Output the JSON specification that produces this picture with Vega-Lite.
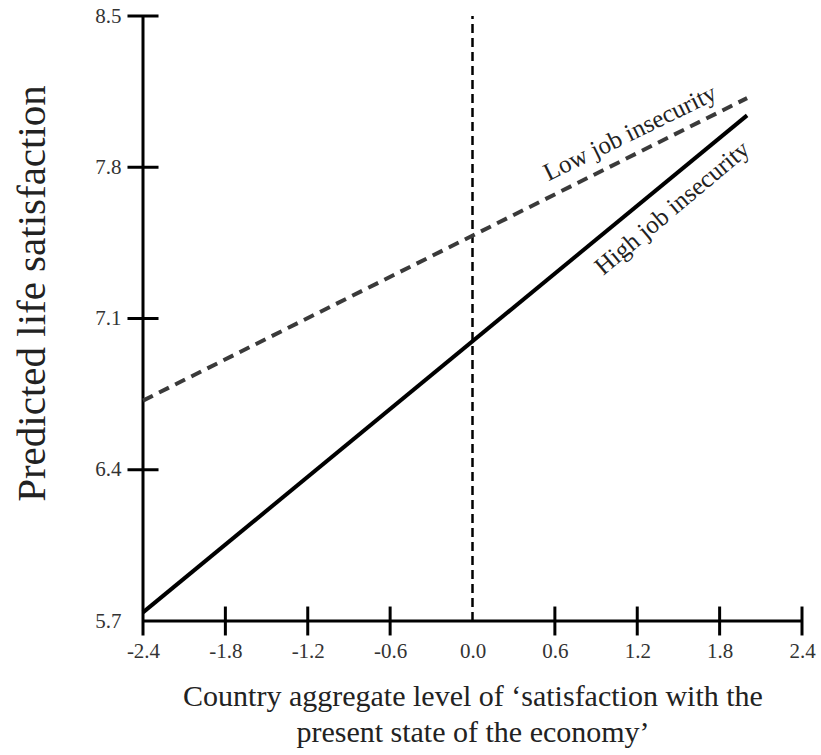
{
  "$schema": "https://vega.github.io/schema/vega-lite/v6.json",
  "width": 659,
  "height": 605,
  "autosize": {"type": "none"},
  "padding": {"left": 143, "top": 16, "right": 19, "bottom": 134},
  "background": "white",
  "config": {"view": {"stroke": null}},
  "datasets": {
    "lines": [
      {"x": -2.4, "y": 5.74, "series": "High job insecurity"},
      {"x": 2.0, "y": 8.04, "series": "High job insecurity"},
      {"x": -2.4, "y": 6.72, "series": "Low job insecurity"},
      {"x": 2.0, "y": 8.12, "series": "Low job insecurity"}
    ],
    "xticks": [
      {"x": -1.8, "y": 5.633, "y2": 5.767},
      {"x": -1.2, "y": 5.633, "y2": 5.767},
      {"x": -0.6, "y": 5.633, "y2": 5.767},
      {"x": 0.6, "y": 5.633, "y2": 5.767},
      {"x": 1.2, "y": 5.633, "y2": 5.767},
      {"x": 1.8, "y": 5.633, "y2": 5.767},
      {"x": 2.4, "y": 5.633, "y2": 5.767}
    ],
    "yticks": [
      {"y": 8.5, "x": -2.513, "x2": -2.287},
      {"y": 7.8, "x": -2.513, "x2": -2.287},
      {"y": 7.1, "x": -2.513, "x2": -2.287},
      {"y": 6.4, "x": -2.513, "x2": -2.287}
    ],
    "labels": [
      {"x": 1.147, "y": 7.96, "label": "Low job insecurity", "angle": -26},
      {"x": 1.453, "y": 7.612, "label": "High job insecurity", "angle": -40}
    ]
  },
  "layer": [
    {
      "data": {"values": [{"x": -2.4, "x2": 2.4, "y": 5.7}]},
      "mark": {"type": "rule", "color": "black", "strokeWidth": 3},
      "encoding": {
        "x": {
          "field": "x", "type": "quantitative",
          "scale": {"domain": [-2.4, 2.4], "nice": false, "zero": false},
          "axis": {
            "values": [-2.4, -1.8, -1.2, -0.6, 0, 0.6, 1.2, 1.8, 2.4],
            "labelExpr": "(datum.value < 0 ? '-' : '') + format(abs(datum.value), '.1f')",
            "domain": false, "ticks": false, "tickSize": 0, "grid": false,
            "labelPadding": 19, "labelFontSize": 21, "labelFont": "Liberation Serif",
            "labelColor": "#333", "labelFlush": false, "labelOverlap": false,
            "title": ["Country aggregate level of ‘satisfaction with the", "present state of the economy’"],
            "titleFont": "Liberation Serif", "titleFontSize": 30, "titleFontWeight": "normal",
            "titleColor": "#222", "titleBaseline": "top", "titleY": 60, "titleLineHeight": 36
          }
        },
        "x2": {"field": "x2"},
        "y": {
          "field": "y", "type": "quantitative",
          "scale": {"domain": [5.7, 8.5], "nice": false, "zero": false},
          "axis": {
            "values": [5.7, 6.4, 7.1, 7.8, 8.5],
            "format": ".1f",
            "domain": false, "ticks": false, "tickSize": 0, "grid": false,
            "labelPadding": 22, "labelFontSize": 21, "labelFont": "Liberation Serif",
            "labelColor": "#333", "labelFlush": false, "labelOverlap": false,
            "title": "Predicted life satisfaction",
            "titleFont": "Liberation Serif", "titleFontSize": 41, "titleFontWeight": "normal",
            "titleColor": "#222", "titleAngle": -90, "titleAlign": "center",
            "titleBaseline": "middle", "titleX": -111, "titleY": 277
          }
        }
      }
    },
    {
      "data": {"values": [{"x": -2.4, "y": 5.633, "y2": 8.5}]},
      "mark": {"type": "rule", "color": "black", "strokeWidth": 3},
      "encoding": {
        "x": {"field": "x", "type": "quantitative"},
        "y": {"field": "y", "type": "quantitative"},
        "y2": {"field": "y2"}
      }
    },
    {
      "data": {"name": "xticks"},
      "mark": {"type": "rule", "color": "black", "strokeWidth": 3},
      "encoding": {
        "x": {"field": "x", "type": "quantitative"},
        "y": {"field": "y", "type": "quantitative"},
        "y2": {"field": "y2"}
      }
    },
    {
      "data": {"name": "yticks"},
      "mark": {"type": "rule", "color": "black", "strokeWidth": 3},
      "encoding": {
        "y": {"field": "y", "type": "quantitative"},
        "x": {"field": "x", "type": "quantitative"},
        "x2": {"field": "x2"}
      }
    },
    {
      "data": {"values": [{"x": 0, "y": 5.7, "y2": 8.5}]},
      "mark": {"type": "rule", "color": "black", "strokeWidth": 2.5, "strokeDash": [9, 5]},
      "encoding": {
        "x": {"field": "x", "type": "quantitative"},
        "y": {"field": "y", "type": "quantitative"},
        "y2": {"field": "y2"}
      }
    },
    {
      "data": {"name": "lines"},
      "transform": [{"filter": "datum.series == 'Low job insecurity'"}],
      "mark": {"type": "line", "color": "#3a3a3a", "strokeWidth": 4, "strokeDash": [11, 7]},
      "encoding": {
        "x": {"field": "x", "type": "quantitative"},
        "y": {"field": "y", "type": "quantitative"}
      }
    },
    {
      "data": {"name": "lines"},
      "transform": [{"filter": "datum.series == 'High job insecurity'"}],
      "mark": {"type": "line", "color": "black", "strokeWidth": 4},
      "encoding": {
        "x": {"field": "x", "type": "quantitative"},
        "y": {"field": "y", "type": "quantitative"}
      }
    },
    {
      "data": {"name": "labels"},
      "mark": {"type": "text", "font": "Liberation Serif", "fontSize": 25, "color": "#222", "align": "center", "baseline": "middle"},
      "encoding": {
        "x": {"field": "x", "type": "quantitative"},
        "y": {"field": "y", "type": "quantitative"},
        "text": {"field": "label"},
        "angle": {"field": "angle", "type": "quantitative", "scale": null}
      }
    }
  ]
}
